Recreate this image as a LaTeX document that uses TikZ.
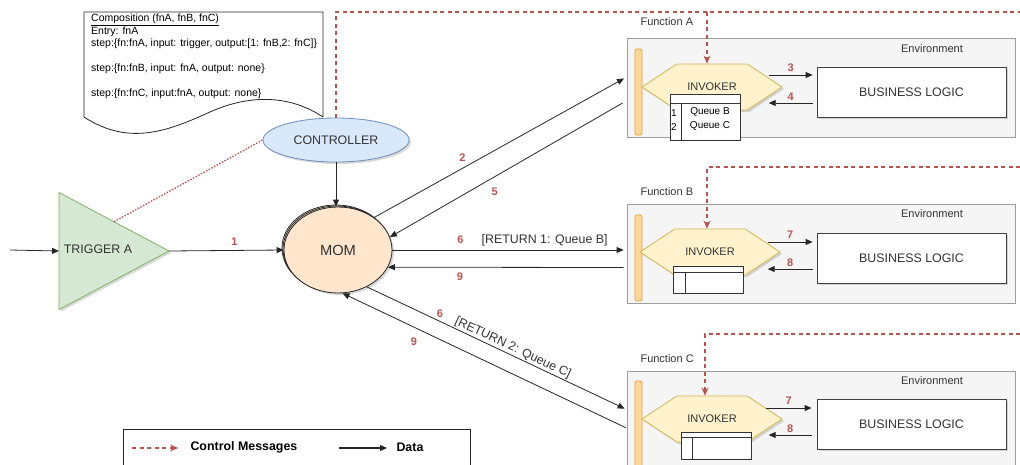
\documentclass[tikz,border=0pt]{standalone}
\usepackage{fontspec}
\setmainfont{Liberation Sans}
\usetikzlibrary{arrows.meta,shapes.geometric,shapes.symbols,shadows}
\definecolor{ctlred}{HTML}{B85450}
\definecolor{ctrlfill}{HTML}{DAE8FC}
\definecolor{ctrldraw}{HTML}{6C8EBF}
\definecolor{trigfill}{HTML}{D5E8D4}
\definecolor{trigdraw}{HTML}{82B366}
\definecolor{momfill}{HTML}{FFE6CC}
\definecolor{invfill}{HTML}{FFF2CC}
\definecolor{invdraw}{HTML}{D6B656}
\definecolor{barfill}{HTML}{FFD79A}
\definecolor{bardraw}{HTML}{E6A23C}
\definecolor{envfill}{HTML}{F5F5F5}
\definecolor{envdraw}{HTML}{9E9E9E}
\tikzset{
  big/.style={font=\fontsize{12.4}{14}\selectfont},
  small/.style={font=\fontsize{11}{13}\selectfont},
  num/.style={text=ctlred,font=\bfseries\fontsize{11}{13}\selectfont,inner sep=1pt},
  data/.style={draw=black!85,line width=0.8pt,-{Triangle[length=7pt,width=6pt]}},
  ctl/.style={draw=ctlred,line width=1.3pt,dash pattern=on 4pt off 3.5pt,-{Stealth[length=8pt,width=7pt]}},
  shade/.style={drop shadow={opacity=0.3,shadow xshift=2pt,shadow yshift=-2pt}},
  envbox/.style={draw=envdraw,fill=envfill,line width=0.8pt,minimum width=388pt,minimum height=99pt,inner sep=0pt},
  bar/.style={draw=bardraw,fill=barfill,line width=0.8pt,rounded corners=1.5pt,minimum width=7pt,minimum height=86pt,inner sep=0pt},
  invoker/.style={signal,signal to=west and east,signal pointer angle=67,draw=invdraw,fill=invfill,line width=0.8pt,
    minimum width=140pt,minimum height=46pt,inner sep=0pt,small,shade},
  logic/.style={draw=black!75,fill=white,line width=0.8pt,minimum width=189pt,minimum height=50pt,inner sep=0pt,big,shade},
  queue/.style={draw=black!80,fill=white,line width=0.8pt,minimum width=70pt,inner sep=0pt},
  momcopy/.style={ellipse,draw=black!85,fill=momfill,line width=0.8pt,minimum width=108pt,minimum height=86pt,inner sep=0pt}
}
\begin{document}
\begin{tikzpicture}[x=1pt,y=-1pt,every node/.style={text=black!80}]
  \useasboundingbox (0,0) rectangle (1020,464);

  \draw[black!85,fill=white,line width=0.8pt] (323,117) -- (323,12) -- (84,12) -- (84,117)
    .. controls (130,147) and (170,130) .. (210,112) .. controls (250,94) and (290,95) .. (323,117);
  \node[anchor=north west,inner sep=0pt,align=left,text=black,font=\fontsize{10.5}{12.5}\selectfont] (comp) at (91,14)
    {\underline{Composition (fnA, fnB, fnC)}\\Entry: fnA\\step:\{fn:fnA, input: trigger, output:[1: fnB,2: fnC]\}\\[12.5pt]
     step:\{fn:fnB, input: fnA, output: none\}\\[12.5pt]step:\{fn:fnC, input:fnA, output: none\}};

  \node[envbox] (envA) at (821,87.5) {};
  \node[envbox] (envB) at (821,253.5) {};
  \node[envbox] (envC) at (821,420.5) {};
  \node[small,anchor=west] (fnA) at (637,22) {Function A};
  \node[small,anchor=west] (fnB) at (637,192) {Function B};
  \node[small,anchor=west] (fnC) at (637,359) {Function C};
  \node[small] (envlA) at (932,49) {Environment};
  \node[small] (envlB) at (932,214) {Environment};
  \node[small] (envlC) at (932,381) {Environment};
  \node[bar] (barA) at (638.5,92) {};
  \node[bar] (barB) at (638.5,258) {};
  \node[bar] (barC) at (638.5,424) {};

  \node[invoker] (invA) at (712,87) {INVOKER};
  \node[invoker] (invB) at (710,252) {INVOKER};
  \node[invoker] (invC) at (712,419) {INVOKER};
  \node[logic] (logA) at (911.5,92) {BUSINESS LOGIC};
  \node[logic] (logB) at (911.5,258) {BUSINESS LOGIC};
  \node[logic] (logC) at (911.5,424) {BUSINESS LOGIC};

  \node[queue,minimum height=46pt] (qA) at (705,117) {};
  \draw[black!80,line width=0.8pt] ([yshift=-10pt]qA.north west) -- ([yshift=-10pt]qA.north east);
  \draw[black!80,line width=0.8pt] ([xshift=12pt,yshift=-10pt]qA.north west) -- ([xshift=12pt]qA.south west);
  \node[small,anchor=west,align=left,inner sep=0pt,text=black,font=\fontsize{10}{14}\selectfont] (qnA) at (671,120) {1\\2};
  \node[small,align=center,inner sep=0pt,text=black,font=\fontsize{10}{14}\selectfont] (qtA) at (710,119) {Queue B\\Queue C};
  \node[queue,minimum height=27pt] (qB) at (708,279.5) {};
  \draw[black!80,line width=0.8pt] ([yshift=-7pt]qB.north west) -- ([yshift=-7pt]qB.north east);
  \draw[black!80,line width=0.8pt] ([xshift=13pt,yshift=-7pt]qB.north west) -- ([xshift=13pt]qB.south west);
  \node[queue,minimum height=27pt] (qC) at (716,445.5) {};
  \draw[black!80,line width=0.8pt] ([yshift=-6pt]qC.north west) -- ([yshift=-6pt]qC.north east);
  \draw[black!80,line width=0.8pt] ([xshift=12pt,yshift=-6pt]qC.north west) -- ([xshift=12pt]qC.south west);

  \draw[data] ([xshift=-14pt,yshift=12pt]invA.east) -- node[num,above=2pt] {3} ([xshift=-4pt,yshift=17pt]logA.west);
  \draw[data] ([xshift=-4pt,yshift=-11pt]logA.west) -- node[num,above=1pt] {4} ([xshift=-14pt,yshift=-16pt]invA.east);
  \draw[data] ([xshift=-13pt,yshift=10pt]invB.east) -- node[num,above=2pt] {7} ([xshift=-4pt,yshift=16pt]logB.west);
  \draw[data] ([xshift=-4pt,yshift=-11pt]logB.west) -- node[num,above=1pt] {8} ([xshift=-13pt,yshift=-17pt]invB.east);
  \draw[data] ([xshift=-17pt,yshift=11pt]invC.east) -- node[num,above=2pt] {7} ([xshift=-5pt,yshift=16pt]logC.west);
  \draw[data] ([xshift=-5pt,yshift=-11pt]logC.west) -- node[num,above=1pt] {8} ([xshift=-14pt,yshift=-16pt]invC.east);

  \node[ellipse,draw=ctrldraw,fill=ctrlfill,line width=0.8pt,minimum width=146pt,minimum height=44pt,inner sep=0pt,big,shade] (ctrl) at (336,140) {CONTROLLER};
  \node[isosceles triangle,isosceles triangle stretches,shape border rotate=0,draw=trigdraw,fill=trigfill,line width=0.8pt,
    minimum width=117pt,minimum height=110pt,inner sep=0pt,outer sep=0pt,shade,anchor=lower side] (trig) at (59,251) {};
  \node[big] (trigtxt) at (98,249) {TRIGGER A};
  \node[momcopy] (mom2) at (336,248) {};
  \node[momcopy] (mom1) at (337,249) {};
  \node[momcopy,shade,font=\fontsize{14.7}{16}\selectfont] (mom) at (338,250) {MOM};

  \coordinate (in) at (10,250);
  \draw[data] (in) -- (trig.lower side);
  \draw[data] (trig.apex) -- node[num,pos=.57,above=4pt] {1} (mom.west);
  \draw[data] (ctrl.south) -- (ctrl.south |- mom.north);
  \draw[ctlred,line width=1.3pt,dash pattern=on 1.5pt off 1.5pt] (ctrl.west) -- (trig.left side);

  \draw[data,shorten >=3pt] (mom.42) -- node[num,pos=.35,above=5pt] {2} ([yshift=10.5pt]envA.west);
  \draw[data] ([xshift=-4pt,yshift=-15.5pt]envA.west) -- node[num,pos=.55,below=10pt] {5} (mom.14);
  \draw[data,shorten >=3pt] (mom.east) -- node[num,pos=.29,above=5pt] {6}
    node[big,pos=.65,above=3pt,inner sep=1pt] {[RETURN 1: Queue B]} ([yshift=3.5pt]envB.west);
  \draw[data] ([xshift=-3pt,yshift=-14pt]envB.west) -- node[num,pos=.695,below=4pt] {9} (mom.-19);
  \draw[data] (mom.-52) -- node[num,pos=.284,above=2pt] {6}
    node[big,pos=.555,sloped,above=0pt,inner sep=1pt] {[RETURN 2: Queue C]} ([xshift=-2pt,yshift=-38pt]envC.north west);
  \draw[data] ([xshift=-1pt,yshift=-57pt]envC.north west) -- node[num,pos=.748,below=9pt] {9} (mom.-84);

  \coordinate (ctlA) at (1020,12);
  \coordinate (ctlB) at (1020,167);
  \coordinate (ctlC) at (1020,334);
  \draw[ctl,-] (ctrl.north) |- (ctlA);
  \draw[ctl] ([xshift=-5pt]invA.north |- ctlA) -- ([xshift=-5pt]invA.north);
  \draw[ctl] (ctlB) -| ([xshift=-3pt]invB.north);
  \draw[ctl] (ctlC) -| ([xshift=-7pt]invC.north);

  \node[draw=black!85,line width=0.8pt,minimum width=347pt,minimum height=41pt,inner sep=0pt] (legend) at (296.5,449.5) {};
  \coordinate (lc1) at (132,448);
  \coordinate (lc2) at (178,448);
  \coordinate (ld1) at (339,448);
  \coordinate (ld2) at (387,448);
  \draw[ctl] (lc1) -- (lc2);
  \draw[data,line width=1.2pt] (ld1) -- (ld2);
  \node[anchor=west,text=black,font=\bfseries\fontsize{12.4}{14}\selectfont] (lctl) at (187,447) {Control Messages};
  \node[anchor=west,text=black,font=\bfseries\fontsize{12.4}{14}\selectfont] (ldata) at (393,447) {Data};
\end{tikzpicture}
\end{document}
